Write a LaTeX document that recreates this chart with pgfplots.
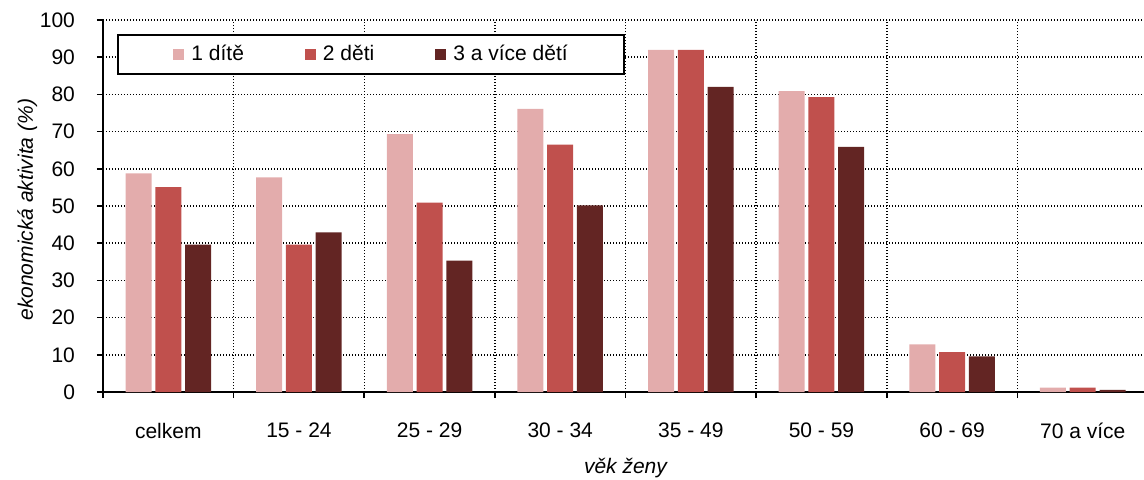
\documentclass[border=0pt]{standalone}
\usepackage{pgfplots}
\pgfplotsset{compat=1.18}
\usepackage{fontspec}
\setmainfont{Liberation Sans}
\definecolor{c1}{RGB}{227,172,172}
\definecolor{c2}{RGB}{192,80,77}
\definecolor{c3}{RGB}{99,37,35}
\pgfplotsset{
    sqleg/.style={
        legend image code/.code={
            \path[fill=none,draw=none] (0pt,-2.85pt) rectangle (15.5pt,2.85pt);
            \fill[##1,draw=none] (8.3pt,-2.85pt) rectangle (14pt,2.85pt);
        },
    },
}
\begin{document}
\begin{tikzpicture}
\begin{axis}[
    scale only axis,
    width=522.5pt, height=186pt,
    at={(0,0)}, anchor=south west,
    xmin=-0.5, xmax=7.5, ymin=0, ymax=100,
    ybar=1.9pt, bar width=13pt,
    every axis plot post/.append style={sqleg},
    axis x line=bottom, axis y line=left,
    axis line style={-, line width=1pt},
    xtick={0,...,7},
    xticklabels={celkem,15 - 24,25 - 29,30 - 34,35 - 49,50 - 59,60 - 69,70 a více},
    minor xtick={-0.5,0.5,...,7.5},
    major x tick style={draw=none},
    ytick={0,10,...,100},
    tick align=outside,
    major tick length=3pt, minor tick length=3pt,
    tick style={black, line width=0.8pt},
    ymajorgrids, xminorgrids,
    grid style={black, line width=0.75pt, dash pattern=on 0.7pt off 0.8pt},
    /pgf/number format/assume math mode=true,
    ticklabel style={font=\fontsize{10.5}{12}\selectfont},
    xticklabel style={yshift=-9pt},
    yticklabel style={xshift=-7.5pt},
    xlabel={věk ženy},
    ylabel={ekonomická aktivita (\%)},
    label style={font=\fontsize{10.5}{12}\selectfont\itshape},
    xlabel style={at={(axis description cs:0.5,-0.22)}, anchor=base},
    ylabel style={at={(axis description cs:-0.067,0.49)}, anchor=base},
    legend columns=3,
    legend style={
        at={(rel axis cs:0.0138,0.962)}, anchor=north west,
        draw=black, line width=1pt, fill=white,
        inner xsep=19pt, inner ysep=3pt,
        font=\fontsize{10.5}{12}\selectfont,
        /tikz/every even column/.append style={column sep=20pt},
    },
]
\addplot[fill=c1, draw=none] coordinates {
    (0,58.8) (1,57.7) (2,69.3) (3,76.1) (4,92.0) (5,80.9) (6,12.8) (7,1.15)};
\addplot[fill=c2, draw=none] coordinates {
    (0,55.1) (1,39.6) (2,50.9) (3,66.5) (4,92.0) (5,79.3) (6,10.7) (7,1.15)};
\addplot[fill=c3, draw=none] coordinates {
    (0,39.6) (1,42.9) (2,35.3) (3,50.2) (4,82.0) (5,65.9) (6,9.6) (7,0.6)};
\legend{1 dítě, 2 děti, 3 a více dětí\kern7pt\relax}
\end{axis}
\pgfresetboundingbox
\path (-51.5pt,-43.5pt) rectangle (520.5pt,196pt);
\end{tikzpicture}
\end{document}
